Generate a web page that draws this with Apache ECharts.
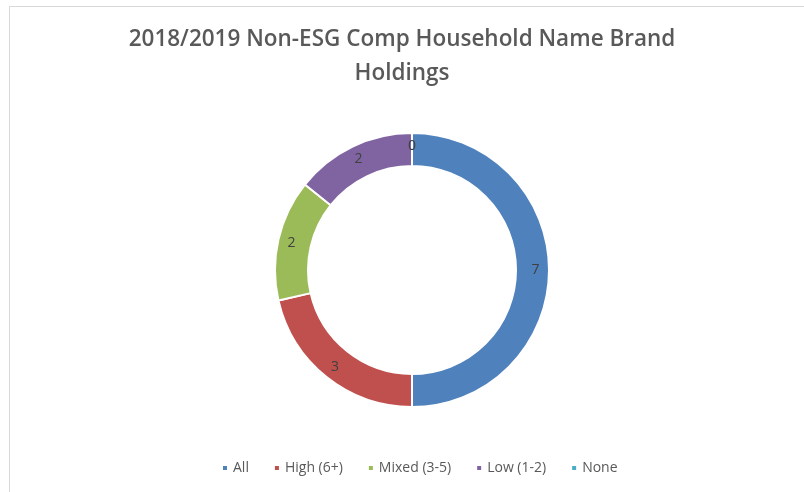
<!DOCTYPE html>
<html>
<head>
<meta charset="utf-8">
<script src="https://cdn.jsdelivr.net/npm/echarts@6/dist/echarts.min.js"></script>
<style>
  html, body { margin: 0; padding: 0; background: #fff; }
  .frame {
    position: absolute;
    left: 9px;
    top: 6px;
    width: 800px;
    height: 490px;
    border-left: 1px solid #d9d9d9;
    border-top: 1px solid #d9d9d9;
  }
  #chart { position: absolute; left: 0; top: 0; width: 804px; height: 492px; }
</style>
</head>
<body>
<div class="frame"></div>
<div id="chart"></div>
<script>
const categories = ['All', 'High (6+)', 'Mixed (3-5)', 'Low (1-2)', 'None']
const holdings = [7, 3, 2, 2, 0]
const colors = ['#4f81bd', '#c0504d', '#9bbb59', '#8064a2', '#4bacc6']

const chart = echarts.init(document.getElementById('chart'), null, { renderer: 'canvas' })

chart.setOption({
  animation: false,
  color: colors,
  title: {
    text: '2018/2019 Non-ESG Comp Household Name Brand\nHoldings',
    left: 'center',
    top: 18,
    textStyle: {
      fontFamily: 'Open Sans',
      fontSize: 22.5,
      fontWeight: 600,
      color: '#595959',
      lineHeight: 34,
    },
  },
  legend: {
    bottom: 12,
    left: 216,
    icon: 'rect',
    itemWidth: 6,
    itemHeight: 6,
    itemGap: 24,
    textStyle: { fontFamily: 'Open Sans', fontSize: 14, color: '#595959' },
    data: categories,
  },
  series: [
    {
      type: 'pie',
      center: [412, 270],
      radius: [104, 137],
      startAngle: 90,
      clockwise: true,
      avoidLabelOverlap: false,
      itemStyle: { borderColor: '#fff', borderWidth: 2 },
      label: {
        show: true,
        position: 'inside',
        formatter: '{c}',
        fontFamily: 'Open Sans',
        fontSize: 14,
        color: '#404040',
      },
      labelLine: { show: false },
      emphasis: { disabled: true },
      data: categories.map((name, i) => ({ name, value: holdings[i] })),
    },
  ],
})
</script>
</body>
</html>
